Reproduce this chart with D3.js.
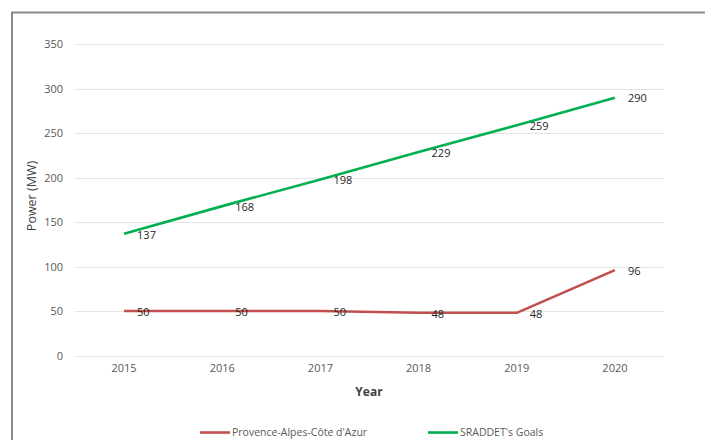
<!DOCTYPE html>
<html>
<head>
<meta charset="utf-8">
<script src="https://cdn.jsdelivr.net/npm/d3@7/dist/d3.min.js"></script>
<style>
  html, body { margin: 0; padding: 0; background: #fff; }
  svg { display: block; }
  text { font-family: "Open Sans", "Noto Sans", sans-serif; }
</style>
</head>
<body>
<svg id="chart" width="705" height="440"></svg>
<script>
const years = ["2015", "2016", "2017", "2018", "2019", "2020"];
const pacaValues = [50, 50, 50, 48, 48, 96];
const sraddetValues = [137, 168, 198, 229, 259, 290];
const yTicks = [0, 50, 100, 150, 200, 250, 300, 350];
const seriesNames = ["Provence-Alpes-Côte d'Azur", "SRADDET's Goals"];
const seriesColors = ["#C0504D", "#00B050"];

const series = [
  { name: seriesNames[0], values: pacaValues, color: seriesColors[0] },
  { name: seriesNames[1], values: sraddetValues, color: seriesColors[1] }
];

const svg = d3.select("#chart");

// outer frame (top + left visible)
svg.append("path")
  .attr("d", "M12,441 L12,12.5 L706,12.5")
  .attr("fill", "none")
  .attr("stroke", "#8a8a8a")
  .attr("stroke-width", 2);

const x = d3.scaleBand().domain(years).range([75, 664]);
const y = d3.scaleLinear().domain([0, 350]).range([355.5, 44.3]);

// gridlines
svg.append("g")
  .selectAll("line")
  .data(yTicks)
  .join("line")
  .attr("x1", 75).attr("x2", 664)
  .attr("y1", d => Math.round(y(d)) + 0.5)
  .attr("y2", d => Math.round(y(d)) + 0.5)
  .attr("stroke", "#e3e3e3")
  .attr("stroke-width", 1);

// y axis labels
const yAxis = d3.axisLeft(y).tickValues(yTicks).tickSize(0).tickPadding(0);
const gy = svg.append("g").attr("transform", "translate(63,0)").call(yAxis);
gy.select(".domain").remove();
gy.selectAll("text")
  .attr("fill", "#595959")
  .style("font-size", "11px")
  .attr("font-family", "\"Open Sans\", sans-serif");

// x axis labels
const xAxis = d3.axisBottom(x).tickSize(0).tickPadding(0);
const gx = svg.append("g").attr("transform", "translate(0,364)").call(xAxis);
gx.select(".domain").remove();
gx.selectAll("text")
  .attr("fill", "#595959")
  .style("font-size", "11px")
  .attr("font-family", "\"Open Sans\", sans-serif");

// axis titles
svg.append("text")
  .attr("x", 369).attr("y", 396)
  .attr("text-anchor", "middle")
  .attr("fill", "#404040")
  .style("font-size", "12px")
  .style("font-weight", "bold")
  .text("Year");

svg.append("text")
  .attr("transform", "translate(36,196) rotate(-90)")
  .attr("text-anchor", "middle")
  .attr("fill", "#404040")
  .style("font-size", "12.5px")
  .text("Power (MW)");

// lines
const cx = d => x(d) + x.bandwidth() / 2;
const line = d3.line()
  .x((v, i) => cx(years[i]))
  .y(v => y(v));

svg.append("g")
  .selectAll("path")
  .data(series)
  .join("path")
  .attr("d", d => line(d.values))
  .attr("fill", "none")
  .attr("stroke", d => d.color)
  .attr("stroke-width", 2.6)
  .attr("stroke-linejoin", "round");

// data labels
series.forEach(s => {
  svg.append("g")
    .selectAll("text")
    .data(s.values)
    .join("text")
    .attr("x", (v, i) => cx(years[i]) + 13)
    .attr("y", v => y(v) + 1)
    .attr("dy", "0.35em")
    .attr("fill", "#262626")
    .style("font-size", "11px")
    .text(v => v);
});

// legend
const legendX = [200, 428];
const legend = svg.append("g")
  .selectAll("g")
  .data(series)
  .join("g")
  .attr("transform", (d, i) => `translate(${legendX[i]},432.5)`);
legend.append("line")
  .attr("x1", 0).attr("x2", 30)
  .attr("y1", 0).attr("y2", 0)
  .attr("stroke", d => d.color)
  .attr("stroke-width", 2.6);
legend.append("text")
  .attr("x", 32).attr("y", 0)
  .attr("dy", "0.35em")
  .attr("fill", "#595959")
  .style("font-size", "10.5px")
  .text(d => d.name);
</script>
</body>
</html>
